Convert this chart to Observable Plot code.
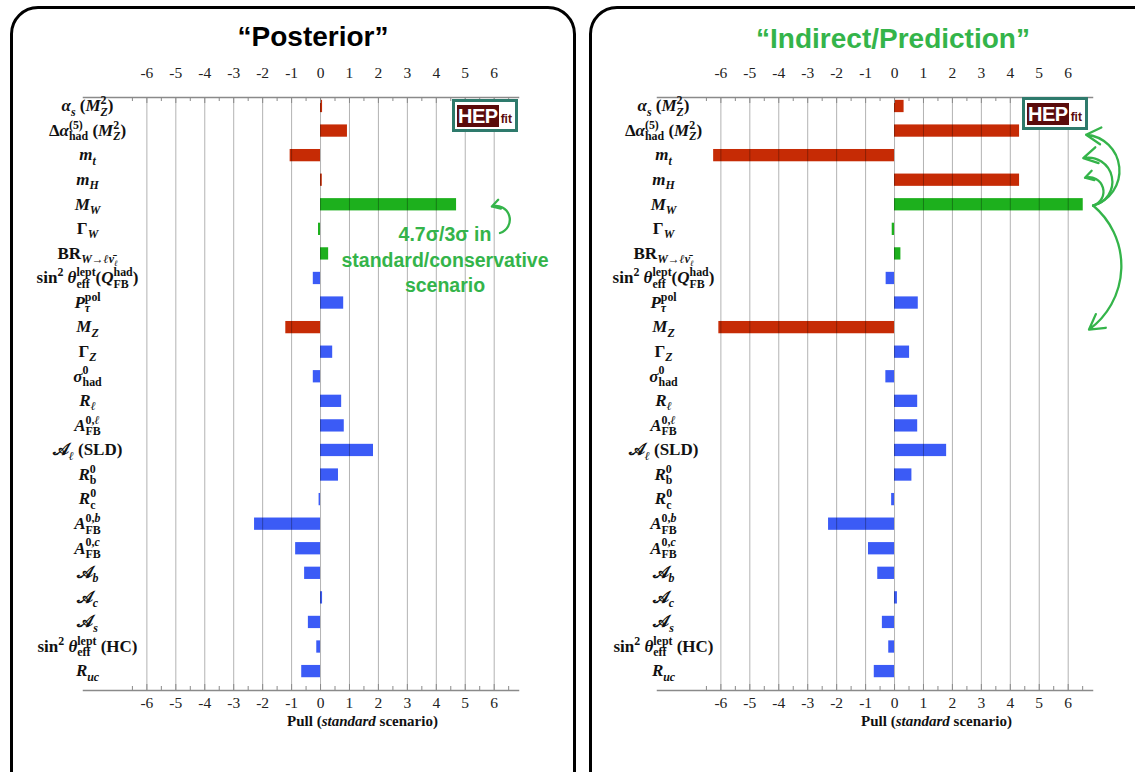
<!DOCTYPE html>
<html>
<head>
<meta charset="utf-8">
<script src="https://cdn.jsdelivr.net/npm/d3@7"></script>
<script src="https://cdn.jsdelivr.net/npm/@observablehq/plot@0.6"></script>
<style>
  html, body { margin: 0; padding: 0; background: #fff; }
  #page { position: relative; width: 1135px; height: 772px; overflow: hidden; background: #fff; }
  .panel { position: absolute; box-sizing: border-box; border: 3.5px solid #000; border-radius: 28px; }
  .title { position: absolute; width: 420px; text-align: center; font-family: "Liberation Sans", Arial, sans-serif; font-weight: bold; font-size: 28px; line-height: 34px; }
  .chart { position: absolute; top: 0; width: 563px; height: 772px; }
  .chart svg { max-width: none !important; width: 563px; height: 772px; }
  .logo { position: absolute; box-sizing: border-box; width: 66px; height: 33px; border: 3px solid #2e7a6c; background: #fff; display: flex; align-items: center; padding: 0 0 0 2px; }
  .logo .hep { background: #5a0b0b; color: #fff; font-family: "Liberation Sans", Arial, sans-serif; font-weight: bold; font-size: 20px; line-height: 22px; letter-spacing: -0.5px; padding: 0 1px; }
  .logo .fit { color: #5a0b0b; font-family: "Liberation Sans", Arial, sans-serif; font-weight: bold; font-size: 12px; align-self: flex-end; margin: 0 0 3px 2px; }
</style>
</head>
<body>
<div id="page">
  <div class="panel" style="left:10px;top:6px;width:566px;height:820px"></div>
  <div class="panel" style="left:589px;top:6px;width:600px;height:820px"></div>
  <div id="t1" class="title" style="left:103px;top:20px;color:#000"></div>
  <div id="t2" class="title" style="left:683px;top:22px;color:#34b44a"></div>
  <div id="c1" class="chart" style="left:12px"></div>
  <div id="c2" class="chart" style="left:586px"></div>
  <div class="logo" style="left:452px;top:99px"><span class="hep">HEP</span><span class="fit">fit</span></div>
  <div class="logo" style="left:1022px;top:97px"><span class="hep">HEP</span><span class="fit">fit</span></div>
</div>
<script>
// ---------------- data ----------------
const titles = ["“Posterior”", "“Indirect/Prediction”"];
const axisTitle = "Pull (*standard* scenario)";
const note = "4.7σ/3σ in\nstandard/conservative\nscenario";

// observable labels (markup: *italic*, _{sub}, ^{sup})
const labels = [
  "*α*_{*s*} (*M*_{*Z*}^{2})",
  "Δ*α*_{had}^{(5)} (*M*_{*Z*}^{2})",
  "*m*_{*t*}",
  "*m*_{*H*}",
  "*M*_{*W*}",
  "Γ_{*W*}",
  "BR_{*W*→*ℓν̄*_{*ℓ*}}",
  "sin^{2} *θ*_{eff}^{lept}(*Q*_{FB}^{had})",
  "*P*_{*τ*}^{pol}",
  "*M*_{*Z*}",
  "Γ_{*Z*}",
  "*σ*_{had}^{0}",
  "*R*_{*ℓ*}",
  "*A*_{FB}^{0,*ℓ*}",
  "𝒜_{*ℓ*} (SLD)",
  "*R*_{b}^{0}",
  "*R*_{c}^{0}",
  "*A*_{FB}^{0,*b*}",
  "*A*_{FB}^{0,*c*}",
  "𝒜_{*b*}",
  "𝒜_{*c*}",
  "𝒜_{*s*}",
  "sin^{2} *θ*_{eff}^{lept} (HC)",
  "*R*_{*uc*}"
];
const groups = ["input","input","input","input","W","W","W","Z","Z","input","Z","Z","Z","Z","Z","Z","Z","Z","Z","Z","Z","Z","Z","Z"];
const groupNames = ["input", "W", "Z"];
const groupColors = ["#c62b05", "#1db01d", "#3b5bf6"];

const posterior  = [0.07, 0.93, -1.05, 0.06, 4.7, -0.07, 0.28, -0.25, 0.8, -1.2, 0.42, -0.25, 0.73, 0.82, 1.83, 0.62, -0.05, -2.28, -0.86, -0.55, 0.07, -0.42, -0.13, -0.65];
const prediction = [0.33, 4.32, -6.25, 4.32, 6.52, -0.08, 0.22, -0.29, 0.82, -6.07, 0.52, -0.3, 0.8, 0.8, 1.8, 0.6, -0.1, -2.28, -0.9, -0.58, 0.1, -0.42, -0.2, -0.7];

const majorTicks = [-6, -5, -4, -3, -2, -1, 0, 1, 2, 3, 4, 5, 6];
const minorTicks = [-6.5, -5.5, -4.5, -3.5, -2.5, -1.5, -0.5, 0.5, 1.5, 2.5, 3.5, 4.5, 5.5, 6.5];
const arrowTargets = ["Δα", "m_t", "m_H", "M_Z"]; // rows pointed at in the right panel
const arrowTargetRows = [1, 2, 3, 9];

// ---------------- markup renderer ----------------
const NS = "http://www.w3.org/2000/svg";
const ctx = document.createElement("canvas").getContext("2d");
function measure(s, size, it, fam) {
  ctx.font = `${it ? "italic " : ""}bold ${size}px ${fam}`;
  return ctx.measureText(s).width;
}
function parse(str) {
  let pos = 0, italic = false;
  function group() {
    if (str[pos] === "{") { pos++; const items = seq(true); pos++; return items; }
    const ch = str[pos++]; return [{t: "txt", s: ch, it: italic}];
  }
  function seq(inBrace) {
    const items = []; let buf = "";
    const flush = () => { if (buf) { items.push({t: "txt", s: buf, it: italic}); buf = ""; } };
    while (pos < str.length) {
      const c = str[pos];
      if (c === "}" && inBrace) break;
      if (c === "*") { flush(); italic = !italic; pos++; continue; }
      if (c === "_" || c === "^") {
        flush(); pos++;
        const a = group();
        if ((str[pos] === "^" || str[pos] === "_") && str[pos] !== c) {
          pos++; const b = group();
          items.push({t: "ss", sub: c === "_" ? a : b, sup: c === "_" ? b : a});
        } else items.push({t: c === "_" ? "sub" : "sup", kids: a});
        continue;
      }
      buf += c; pos++;
    }
    flush();
    return items;
  }
  return seq(false);
}
function width(items, size, fam) {
  let w = 0;
  for (const it of items) {
    if (it.t === "txt") w += measure(it.s, size, it.it, fam);
    else if (it.t === "ss") w += Math.max(width(it.sup, size * 0.7, fam), width(it.sub, size * 0.7, fam));
    else w += width(it.kids, size * 0.7, fam);
  }
  return w;
}
function layout(items, size, shift, runs, fam) {
  for (const it of items) {
    if (it.t === "txt") {
      runs.push({s: it.s, it: it.it, size, shift, dx: 0});
    } else if (it.t === "sub" || it.t === "sup") {
      const sh = shift + (it.t === "sub" ? 0.25 * size : -0.42 * size);
      layout(it.kids, size * 0.7, sh, runs, fam);
    } else {
      // stacked: draw the narrower script first, then the wider one over it
      const wSup = width(it.sup, size * 0.7, fam), wSub = width(it.sub, size * 0.7, fam);
      const supSh = shift - 0.42 * size, subSh = shift + 0.27 * size;
      const first = wSup <= wSub ? [it.sup, supSh, wSup] : [it.sub, subSh, wSub];
      const second = wSup <= wSub ? [it.sub, subSh] : [it.sup, supSh];
      layout(first[0], size * 0.7, first[1], runs, fam);
      const start = runs.length;
      layout(second[0], size * 0.7, second[1], runs, fam);
      runs[start].dx -= first[2];
    }
  }
}
function renderInto(el, str, size, fam) {
  const runs = [];
  layout(parse(str), size, 0, runs, fam);
  el.textContent = "";
  el.setAttribute("font-family", fam);
  el.setAttribute("font-weight", "bold");
  el.style.whiteSpace = "pre";
  let prev = 0;
  for (const r of runs) {
    const t = document.createElementNS(NS, "tspan");
    t.textContent = r.s;
    t.setAttribute("font-size", r.size.toFixed(2));
    t.setAttribute("font-style", r.it ? "italic" : "normal");
    const dy = r.shift - prev; if (Math.abs(dy) > 1e-6) t.setAttribute("dy", dy.toFixed(2));
    if (Math.abs(r.dx) > 1e-6) t.setAttribute("dx", r.dx.toFixed(2));
    prev = r.shift;
    el.appendChild(t);
  }
}

// ---------------- chart ----------------
const W = 563, H = 772, MT = 97, MB = 82, ML = 71, MR = 57;
const FH = H - MT - MB;
const green = "#34b44a";

function panel(values, labelDx, extra) {
  const rows = labels.map((l, i) => ({i, label: l, v: values[i], g: groups[i]}));
  const idx = labels.map((_, i) => i);
  const chart = Plot.plot({
    width: W, height: H,
    marginTop: MT, marginBottom: MB, marginLeft: ML, marginRight: MR,
    style: {background: "transparent", overflow: "visible", fontFamily: "Liberation Serif, serif", fontSize: "15px"},
    x: {domain: [-8.19, 6.84]},
    y: {domain: [23.77, -0.366]},
    color: {domain: groupNames, range: groupColors},
    marks: [
      Plot.rect(rows, {x1: 0, x2: "v", y1: d => d.i - 0.25, y2: d => d.i + 0.25, fill: "g"}),
      Plot.ruleX(majorTicks, {stroke: "#000", strokeOpacity: 0.3, strokeWidth: 1}),
      Plot.frame({anchor: "top", stroke: "#8a8a8a", strokeWidth: 1.5}),
      Plot.frame({anchor: "bottom", stroke: "#8a8a8a", strokeWidth: 1.5}),
      Plot.ruleX(majorTicks, {insetBottom: FH - 6, stroke: "#8a8a8a"}),
      Plot.ruleX(minorTicks, {insetBottom: FH - 4, stroke: "#8a8a8a"}),
      Plot.ruleX(majorTicks, {insetTop: FH - 6, stroke: "#8a8a8a"}),
      Plot.ruleX(minorTicks, {insetTop: FH - 4, stroke: "#8a8a8a"}),
      Plot.axisX(majorTicks, {anchor: "top", tickSize: 0, tickPadding: 20, tickFormat: d => String(d), label: null, fill: "#222", fontSize: 15.5}),
      Plot.axisX(majorTicks, {anchor: "bottom", tickSize: 0, tickPadding: 6, tickFormat: d => String(d), label: null, fill: "#222", fontSize: 15.5}),
      Plot.axisY(idx, {anchor: "left", tickSize: 0, tickPadding: 0, tickFormat: i => labels[i], textAnchor: "middle", dx: labelDx, label: null, fill: "#111"}),
      Plot.text([axisTitle], {x: 1.45, frameAnchor: "bottom", dy: 35, text: d => d, fill: "#111"}),
      ...extra
    ]
  });
  chart.querySelectorAll("text").forEach(el => {
    const s = el.textContent;
    if (/[*_^]/.test(s)) {
      const isTitle = s === axisTitle;
      renderInto(el, s, isTitle ? 15 : 17, "Liberation Serif, serif");
    }
  });
  return chart;
}

const arrowStyle = {stroke: green, strokeWidth: 2.3, headLength: 11};
const left = panel(posterior, 4, [
  Plot.text([note], {x: 4.3, y: 6.19, text: d => d, lineHeight: 1.3, fontSize: 19.5, fontWeight: "bold", fontFamily: "Liberation Sans, Arial, sans-serif", fill: green}),
  Plot.arrow([0], {x1: 6.2, y1: 5.15, x2: 5.92, y2: 4.07, bend: -90, ...arrowStyle})
]);
const rightBends = [-80, -90, -90, 52];
const rightEnds = [[6.62, 0.15], [6.52, 0.1], [6.58, -0.1], [6.72, 0.08]];
const right = panel(prediction, 6,
  arrowTargetRows.map((r, k) => Plot.arrow([arrowTargets[k]], {
    x1: 6.86, y1: 4.03, x2: rightEnds[k][0], y2: r + rightEnds[k][1], bend: rightBends[k], ...arrowStyle
  }))
);

document.getElementById("c1").appendChild(left);
document.getElementById("c2").appendChild(right);
document.getElementById("t1").textContent = titles[0];
document.getElementById("t2").textContent = titles[1];
</script>
</body>
</html>
